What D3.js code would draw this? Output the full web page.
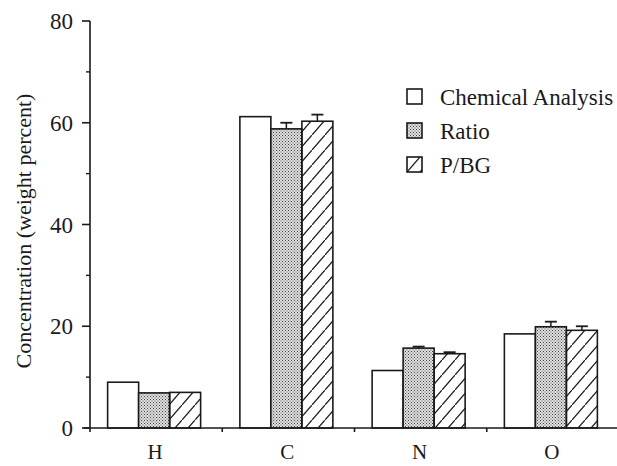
<!DOCTYPE html>
<html>
<head>
<meta charset="utf-8">
<script src="https://cdn.jsdelivr.net/npm/d3@7"></script>
<style>
  body { margin: 0; background: #fff; }
  svg text { font-family: "Liberation Serif", "Times New Roman", serif; fill: #1a1a1a; }
</style>
</head>
<body>
<div id="chart"></div>
<script>
// data
const elements = ["H", "C", "N", "O"]
const seriesNames = ["Chemical Analysis", "Ratio", "P/BG"]
const chemical = [9.0, 61.2, 11.3, 18.5]
const ratio = [6.9, 58.8, 15.7, 19.9]
const ratioErr = [0, 1.2, 0.3, 1.0]
const pbg = [7.0, 60.3, 14.6, 19.2]
const pbgErr = [0, 1.3, 0.3, 0.8]
const yTicks = [0, 20, 40, 60, 80]
const yMinor = [10, 30, 50, 70]

const width = 617
const height = 466

const svg = d3
  .select("#chart")
  .append("svg")
  .attr("width", width)
  .attr("height", height)

const defs = svg.append("defs")

// stipple for Ratio
const dots = defs
  .append("pattern")
  .attr("id", "dots")
  .attr("patternUnits", "userSpaceOnUse")
  .attr("width", 3)
  .attr("height", 3)
dots.append("rect").attr("width", 3).attr("height", 3).attr("fill", "#e0e0e0")
dots.append("rect").attr("x", 0).attr("y", 0).attr("width", 1).attr("height", 1).attr("fill", "#444")
dots.append("rect").attr("x", 1.5).attr("y", 1.5).attr("width", 1).attr("height", 1).attr("fill", "#555")

// hatch for P/BG
const hatch = defs
  .append("pattern")
  .attr("id", "hatch")
  .attr("patternUnits", "userSpaceOnUse")
  .attr("width", 13)
  .attr("height", 15)
hatch
  .append("path")
  .attr("d", "M-1,16.2 L14,-1.2")
  .attr("stroke", "#1a1a1a")
  .attr("stroke-width", 1.2)

const x = d3.scaleBand().domain(elements).range([90, 619])
const y = d3.scaleLinear().domain([0, 80]).range([428, 21])

const barW = 31
const fills = ["#fff", "url(#dots)", "url(#hatch)"]
const values = [chemical, ratio, pbg]
const errs = [null, ratioErr, pbgErr]

const bars = []
elements.forEach((el, i) => {
  values.forEach((v, s) => {
    bars.push({ el: el, s: s, v: v[i], e: errs[s] ? errs[s][i] : 0 })
  })
})

const barX = (d) => x(d.el) + x.bandwidth() / 2 - 1.5 * barW + d.s * barW - 2

// error bars (behind bars)
svg
  .selectAll(".err")
  .data(bars.filter((d) => d.e > 0))
  .join("g")
  .attr("class", "err")
  .each(function (d) {
    const g = d3.select(this)
    const cx = barX(d) + barW / 2
    g.append("line")
      .attr("x1", cx).attr("x2", cx)
      .attr("y1", y(d.v)).attr("y2", y(d.v + d.e))
      .attr("stroke", "#1a1a1a").attr("stroke-width", 1.5)
    g.append("line")
      .attr("x1", cx - 6).attr("x2", cx + 6)
      .attr("y1", y(d.v + d.e)).attr("y2", y(d.v + d.e))
      .attr("stroke", "#1a1a1a").attr("stroke-width", 1.8)
  })

svg
  .selectAll(".bar")
  .data(bars)
  .join("rect")
  .attr("class", "bar")
  .attr("x", barX)
  .attr("y", (d) => y(d.v))
  .attr("width", barW)
  .attr("height", (d) => y(0) - y(d.v))
  .attr("fill", (d) => fills[d.s])
  .attr("stroke", "#1a1a1a")
  .attr("stroke-width", 1.6)

// y axis
const yAxis = svg.append("g").attr("transform", "translate(90,0)")
yAxis
  .append("line")
  .attr("x1", 0).attr("x2", 0)
  .attr("y1", y(80)).attr("y2", y(0) + 4)
  .attr("stroke", "#1a1a1a").attr("stroke-width", 1.6)
yAxis
  .selectAll(".maj")
  .data(yTicks)
  .join("line")
  .attr("x1", -8).attr("x2", 0)
  .attr("y1", (d) => y(d)).attr("y2", (d) => y(d))
  .attr("stroke", "#1a1a1a").attr("stroke-width", 1.6)
yAxis
  .selectAll(".min")
  .data(yMinor)
  .join("line")
  .attr("x1", -4).attr("x2", 0)
  .attr("y1", (d) => y(d)).attr("y2", (d) => y(d))
  .attr("stroke", "#1a1a1a").attr("stroke-width", 1.4)
yAxis
  .selectAll("text")
  .data(yTicks)
  .join("text")
  .attr("x", -17)
  .attr("y", (d) => y(d))
  .attr("dy", "0.35em")
  .attr("text-anchor", "end")
  .style("font-size", "23px")
  .text((d) => d)

// x axis
svg
  .append("line")
  .attr("x1", 84).attr("x2", 617)
  .attr("y1", y(0)).attr("y2", y(0))
  .attr("stroke", "#1a1a1a").attr("stroke-width", 1.6)
svg
  .selectAll(".xtick")
  .data(elements.slice(1))
  .join("line")
  .attr("class", "xtick")
  .attr("x1", (d) => x(d)).attr("x2", (d) => x(d))
  .attr("y1", y(0)).attr("y2", y(0) + 4)
  .attr("stroke", "#1a1a1a").attr("stroke-width", 1.6)
svg
  .selectAll(".xlab")
  .data(elements)
  .join("text")
  .attr("class", "xlab")
  .attr("x", (d) => x(d) + x.bandwidth() / 2 - 1)
  .attr("y", 459)
  .attr("text-anchor", "middle")
  .style("font-size", "21px")
  .text((d) => d)

// y label
svg
  .append("text")
  .attr("transform", "translate(31,231) rotate(-90)")
  .attr("text-anchor", "middle")
  .style("font-size", "22px")
  .text("Concentration (weight percent)")

// legend
const legend = svg
  .selectAll(".leg")
  .data(seriesNames)
  .join("g")
  .attr("class", "leg")
  .attr("transform", (d, i) => `translate(407,${89 + i * 34})`)
legend
  .append("rect")
  .attr("width", 15)
  .attr("height", 15)
  .attr("fill", (d, i) => fills[i])
  .attr("stroke", "#1a1a1a")
  .attr("stroke-width", 1.6)
legend
  .append("text")
  .attr("x", 33)
  .attr("y", 7.5)
  .attr("dy", "0.35em")
  .style("font-size", "23px")
  .text((d) => d)
</script>
</body>
</html>
